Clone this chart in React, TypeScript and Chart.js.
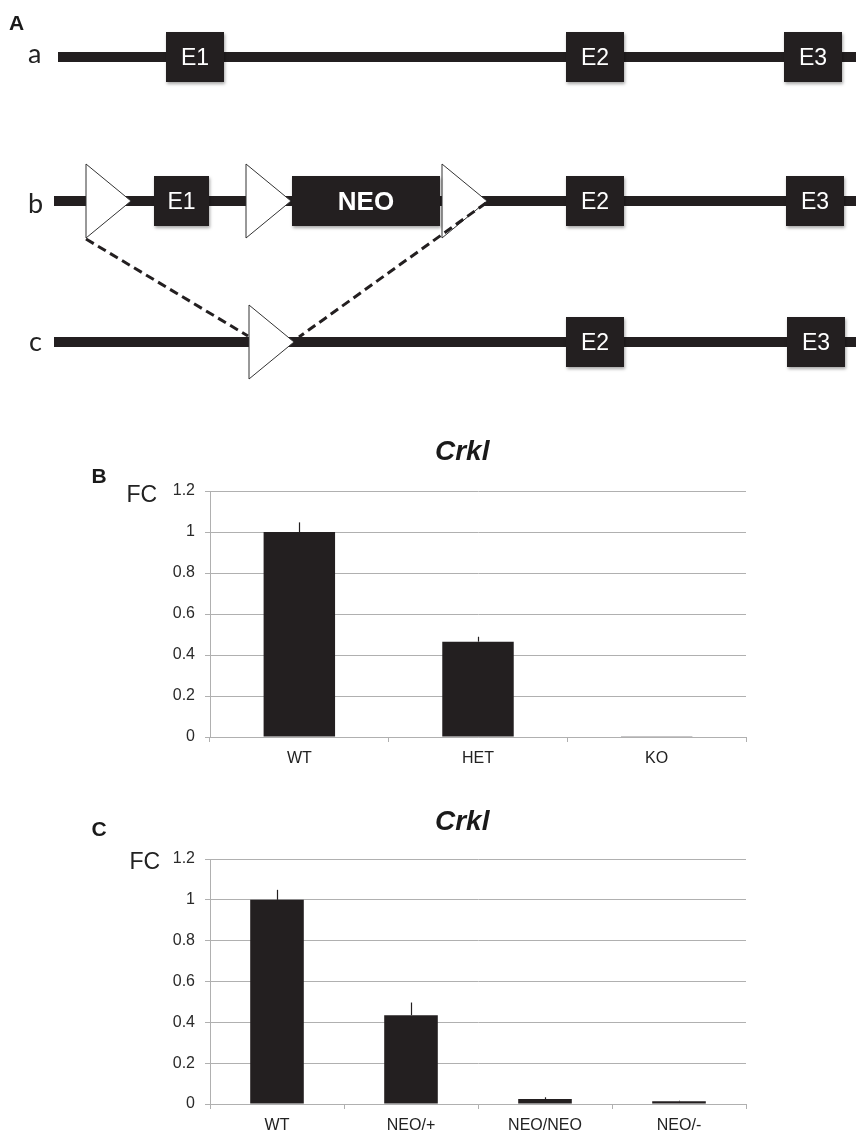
import React, { useEffect, useRef } from 'react';
import { Chart, registerables } from 'chart.js';

Chart.register(...registerables);

// ---------------- Panel A: gene-targeting schematic (map units) ----------------
const ALLELES = ['a', 'b', 'c'];
const ALLELE_LEVEL = [57, 201, 342];
const ALLELE_START = [58, 54, 54];
const ALLELE_END = [856, 856, 856];

const EXON_ALLELE = ['a', 'a', 'a', 'b', 'b', 'b', 'b', 'c', 'c'];
const EXON_LABEL = ['E1', 'E2', 'E3', 'E1', 'NEO', 'E2', 'E3', 'E2', 'E3'];
const EXON_START = [166, 566, 784, 154, 292, 566, 786, 566, 787];
const EXON_END = [224, 624, 842, 209, 440, 624, 844, 624, 845];

const LOXP_ALLELE = ['b', 'b', 'b', 'c'];
const LOXP_POS = [86, 246, 442, 249];

const DELETION_FROM_X = [86, 486];
const DELETION_FROM_Y = [239, 203];
const DELETION_TO_X = [248, 299];
const DELETION_TO_Y = [336, 337];

// ---------------- Panel B ----------------
const GENOTYPES_B = ['WT', 'HET', 'KO'];
const FC_B = [1.0, 0.465, 0.004];
const SEM_B = [0.047, 0.024, 0.0];

// ---------------- Panel C ----------------
const GENOTYPES_C = ['WT', 'NEO/+', 'NEO/NEO', 'NEO/-'];
const FC_C = [1.0, 0.435, 0.024, 0.013];
const SEM_C = [0.049, 0.062, 0.009, 0.003];

const FC_TICKS = [0, 0.2, 0.4, 0.6, 0.8, 1, 1.2];

const SANS = '"Liberation Sans", Arial, Helvetica, sans-serif';
const GRID = '#b0b0b0';
const INK = '#231f20';

type Note = { text: string; x: number; y: number; font: string; color?: string };

function notesPlugin(notes: Note[], offX: number, offY: number) {
  return {
    id: 'notes',
    afterDraw(chart: any) {
      const ctx = chart.ctx;
      ctx.save();
      ctx.textBaseline = 'alphabetic';
      ctx.textAlign = 'left';
      for (const n of notes) {
        ctx.font = n.font;
        ctx.fillStyle = n.color || '#1a1a1a';
        ctx.fillText(n.text, n.x - offX, n.y - offY);
      }
      ctx.restore();
    },
  };
}

function Schematic() {
  const ref = useRef<HTMLCanvasElement>(null);
  useEffect(() => {
    if (!ref.current) return;
    const TRI_W = 45;
    const TRI_H = 37;
    const BOX_H = 25;
    const levelOf = (a: string) => ALLELE_LEVEL[ALLELES.indexOf(a)];

    const datasets: any[] = [];
    DELETION_FROM_X.forEach((x, i) => {
      datasets.push({
        data: [
          { x, y: DELETION_FROM_Y[i] },
          { x: DELETION_TO_X[i], y: DELETION_TO_Y[i] },
        ],
        showLine: true,
        fill: false,
        borderColor: INK,
        borderWidth: 3,
        borderDash: [9, 5],
        pointRadius: 0,
        order: 0,
      });
    });
    LOXP_POS.forEach((x, i) => {
      const yc = levelOf(LOXP_ALLELE[i]);
      datasets.push({
        data: [
          { x, y: yc - TRI_H },
          { x: x + TRI_W, y: yc },
          { x, y: yc + TRI_H },
          { x, y: yc - TRI_H },
        ],
        showLine: true,
        fill: 'shape',
        backgroundColor: '#ffffff',
        borderColor: '#333333',
        borderWidth: 1,
        borderJoinStyle: 'miter',
        pointRadius: 0,
        tension: 0,
        order: 1,
      });
    });
    ALLELES.forEach((a, i) => {
      datasets.push({
        data: [
          { x: ALLELE_START[i], y: ALLELE_LEVEL[i] },
          { x: ALLELE_END[i], y: ALLELE_LEVEL[i] },
        ],
        showLine: true,
        fill: false,
        borderColor: INK,
        borderWidth: 10,
        borderCapStyle: 'butt',
        pointRadius: 0,
        order: 2,
      });
    });

    const exonPlugin = {
      id: 'exons',
      afterDatasetsDraw(chart: any) {
        const ctx = chart.ctx;
        const xs = chart.scales.x;
        const ys = chart.scales.y;
        ctx.save();
        EXON_LABEL.forEach((lab, i) => {
          const yc = levelOf(EXON_ALLELE[i]);
          const x0 = xs.getPixelForValue(EXON_START[i]);
          const x1 = xs.getPixelForValue(EXON_END[i]);
          const y0 = ys.getPixelForValue(yc - BOX_H);
          const y1 = ys.getPixelForValue(yc + BOX_H);
          ctx.save();
          ctx.shadowColor = 'rgba(0,0,0,0.35)';
          ctx.shadowBlur = 3;
          ctx.shadowOffsetX = 1;
          ctx.shadowOffsetY = 2;
          ctx.fillStyle = INK;
          ctx.fillRect(x0, y0, x1 - x0, y1 - y0);
          ctx.restore();
          const isNeo = lab === 'NEO';
          const size = isNeo ? 26 : 23;
          ctx.font = `${isNeo ? 'bold ' : ''}${size}px ${SANS}`;
          ctx.fillStyle = '#ffffff';
          ctx.textAlign = 'center';
          ctx.textBaseline = 'alphabetic';
          const yMid = ys.getPixelForValue(yc);
          ctx.fillText(lab, (x0 + x1) / 2, yMid + size * 0.358);
        });
        ctx.restore();
      },
    };

    const notes: Note[] = [
      { text: 'A', x: 9, y: 30, font: `bold 21px ${SANS}` },
      { text: 'a', x: 28, y: 63, font: `27px Lato, "Open Sans", sans-serif`, color: '#222' },
      { text: 'b', x: 28, y: 212.5, font: `27px Lato, "Open Sans", sans-serif`, color: '#222' },
      { text: 'c', x: 29, y: 351, font: `27px Lato, "Open Sans", sans-serif`, color: '#222' },
    ];

    const chart = new Chart(ref.current, {
      type: 'scatter',
      data: { datasets },
      options: {
        responsive: false,
        maintainAspectRatio: false,
        animation: false,
        layout: { padding: 0 },
        plugins: { legend: { display: false }, tooltip: { enabled: false }, title: { display: false } },
        scales: {
          x: { type: 'linear', min: 0, max: 856, display: false },
          y: { type: 'linear', min: 0, max: 390, reverse: true, display: false },
        },
      } as any,
      plugins: [exonPlugin, notesPlugin(notes, 0, 0)],
    } as any);
    return () => chart.destroy();
  }, []);
  return (
    <canvas
      ref={ref}
      width={856}
      height={390}
      style={{ position: 'absolute', left: 0, top: 0, width: 856, height: 390 }}
    />
  );
}

const errorBarPlugin = (errors: number[]) => ({
  id: 'errorBars',
  afterDatasetsDraw(chart: any) {
    const meta = chart.getDatasetMeta(0);
    const ys = chart.scales.y;
    const vals = chart.data.datasets[0].data as number[];
    const ctx = chart.ctx;
    ctx.save();
    ctx.strokeStyle = INK;
    ctx.lineWidth = 1.2;
    meta.data.forEach((bar: any, i: number) => {
      const e = errors[i];
      if (!e) return;
      const yTop = ys.getPixelForValue(vals[i] + e);
      ctx.beginPath();
      ctx.moveTo(Math.round(bar.x) + 0.5, bar.y);
      ctx.lineTo(Math.round(bar.x) + 0.5, yTop);
      ctx.stroke();
    });
    ctx.restore();
  },
});

function BarPanel(props: {
  labels: string[];
  values: number[];
  errors: number[];
  left: number;
  top: number;
  width: number;
  height: number;
  padTop: number;
  xAxisH: number;
  notes: Note[];
}) {
  const ref = useRef<HTMLCanvasElement>(null);
  const { labels, values, errors, left, top, width, height, padTop, xAxisH, notes } = props;
  useEffect(() => {
    if (!ref.current) return;
    const chart = new Chart(ref.current, {
      type: 'bar',
      data: {
        labels,
        datasets: [
          {
            data: values,
            backgroundColor: INK,
            borderWidth: 0,
            barPercentage: 0.4,
            categoryPercentage: 1,
          },
        ],
      },
      options: {
        responsive: false,
        maintainAspectRatio: false,
        animation: false,
        layout: { padding: { top: padTop, right: 14, left: 0, bottom: 0 } },
        plugins: { legend: { display: false }, tooltip: { enabled: false }, title: { display: false } },
        scales: {
          x: {
            offset: true,
            grid: {
              display: true,
              offset: true,
              drawOnChartArea: false,
              drawTicks: true,
              tickLength: 5,
              color: GRID,
              tickColor: GRID,
            },
            border: { display: true, color: GRID, width: 1 },
            ticks: { color: '#222', font: { family: SANS, size: 16 }, padding: 7, maxRotation: 0 },
            afterFit: (s: any) => {
              s.height = xAxisH;
            },
          },
          y: {
            min: 0,
            max: 1.2,
            grid: { color: GRID, tickColor: GRID, tickLength: 5, lineWidth: 1 },
            border: { display: true, color: GRID, width: 1 },
            ticks: {
              color: '#2a2a2a',
              font: { family: SANS, size: 16 },
              padding: 10,
              callback: (v: any) => String(+(+v).toFixed(1)),
            },
            afterBuildTicks: (s: any) => {
              s.ticks = FC_TICKS.map((v) => ({ value: v }));
            },
            afterFit: (s: any) => {
              s.width = 130;
            },
          },
        },
      } as any,
      plugins: [errorBarPlugin(errors), notesPlugin(notes, left, top)],
    } as any);
    return () => chart.destroy();
  }, []);
  return (
    <canvas
      ref={ref}
      width={width}
      height={height}
      style={{ position: 'absolute', left, top, width, height }}
    />
  );
}

export default function App() {
  const notesB: Note[] = [
    { text: 'B', x: 91.5, y: 482.5, font: `bold 21px ${SANS}` },
    { text: 'FC', x: 126.5, y: 501.5, font: `23px ${SANS}`, color: '#222' },
    { text: 'Crkl', x: 435, y: 460, font: `italic bold 28px ${SANS}`, color: '#1a1a1a' },
  ];
  const notesC: Note[] = [
    { text: 'C', x: 91.5, y: 836, font: `bold 21px ${SANS}` },
    { text: 'FC', x: 129.5, y: 869.3, font: `23px ${SANS}`, color: '#222' },
    { text: 'Crkl', x: 435, y: 830, font: `italic bold 28px ${SANS}`, color: '#1a1a1a' },
  ];
  return (
    <div
      style={{
        position: 'absolute',
        left: 0,
        top: 0,
        width: 856,
        height: 1134,
        overflow: 'hidden',
        background: '#ffffff',
      }}
    >
      <Schematic />
      <BarPanel
        labels={GENOTYPES_B}
        values={FC_B}
        errors={SEM_B}
        left={80}
        top={425}
        width={680}
        height={355}
        padTop={66}
        xAxisH={43}
        notes={notesB}
      />
      <BarPanel
        labels={GENOTYPES_C}
        values={FC_C}
        errors={SEM_C}
        left={80}
        top={795}
        width={680}
        height={339}
        padTop={64}
        xAxisH={30}
        notes={notesC}
      />
    </div>
  );
}
